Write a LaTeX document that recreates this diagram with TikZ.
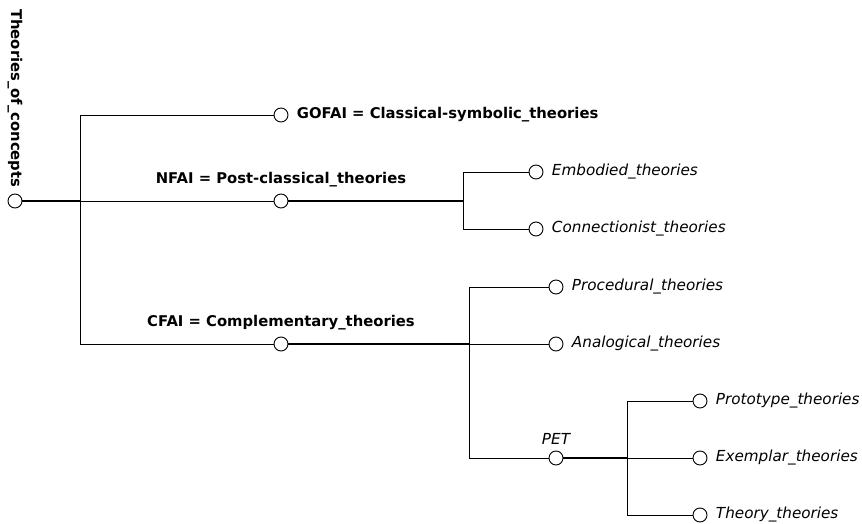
\documentclass[tikz,border=0pt]{standalone}
\usepackage{fontspec}
\setmainfont{DejaVu Sans}
\begin{document}
\begin{tikzpicture}[x=1pt, y=-1pt,
    leaf/.style={circle, draw, fill=white, inner sep=0pt, minimum size=14pt, line width=0.9pt},
    stem/.style={line width=1.7pt},
    twig/.style={line width=0.9pt},
    cat/.style={font=\fontsize{14.8}{17}\selectfont\bfseries},
    kind/.style={font=\fontsize{15.2}{17}\selectfont\itshape}
]
\useasboundingbox (0,0) rectangle (862,524);

% root
\node[leaf] (root) at (15,201) {};
\node[cat, rotate=-90, anchor=east] (title) at (15,191) {Theories\_of\_concepts};

% first level
\node[leaf, label={[cat, label distance=5pt]right:GOFAI = Classical-symbolic\_theories}] (gofai) at (281,115) {};
\node[leaf, label={[cat, label distance=3pt]above:NFAI = Post-classical\_theories}] (nfai) at (281,201) {};
\node[leaf, label={[cat, label distance=3pt]above:CFAI = Complementary\_theories}] (cfai) at (281,344) {};

% NFAI children
\node[leaf, label={[kind, label distance=5pt]right:Embodied\_theories}] (emb) at (536,172) {};
\node[leaf, label={[kind, label distance=5pt]right:Connectionist\_theories}] (con) at (536,229) {};

% CFAI children
\node[leaf, label={[kind, label distance=5pt]right:Procedural\_theories}] (proc) at (556,287) {};
\node[leaf, label={[kind, label distance=5pt]right:Analogical\_theories}] (ana) at (556,344) {};
\node[leaf, label={[kind, label distance=3pt]above:PET}] (pet) at (556,458) {};

% PET children
\node[leaf, label={[kind, label distance=5pt]right:Prototype\_theories}] (proto) at (700,401) {};
\node[leaf, label={[kind, label distance=5pt]right:Exemplar\_theories}] (exem) at (700,458) {};
\node[leaf, label={[kind, label distance=5pt]right:Theory\_theories}] (theo) at (700,515) {};

% branch points
\coordinate (b0) at (80,201);
\coordinate (b1) at (463,201);
\coordinate (b2) at (469,344);
\coordinate (b3) at (627,458);

\draw[stem] (root) -- (b0);
\draw[twig] (b0) |- (gofai);
\draw[twig] (b0) -- (nfai);
\draw[twig] (b0) |- (cfai);

\draw[stem] (nfai) -- (b1);
\draw[twig] (b1) |- (emb);
\draw[twig] (b1) |- (con);

\draw[stem] (cfai) -- (b2);
\draw[twig] (b2) |- (proc);
\draw[twig] (b2) -- (ana);
\draw[twig] (b2) |- (pet);

\draw[stem] (pet) -- (b3);
\draw[twig] (b3) |- (proto);
\draw[twig] (b3) -- (exem);
\draw[twig] (b3) |- (theo);
\end{tikzpicture}
\end{document}
